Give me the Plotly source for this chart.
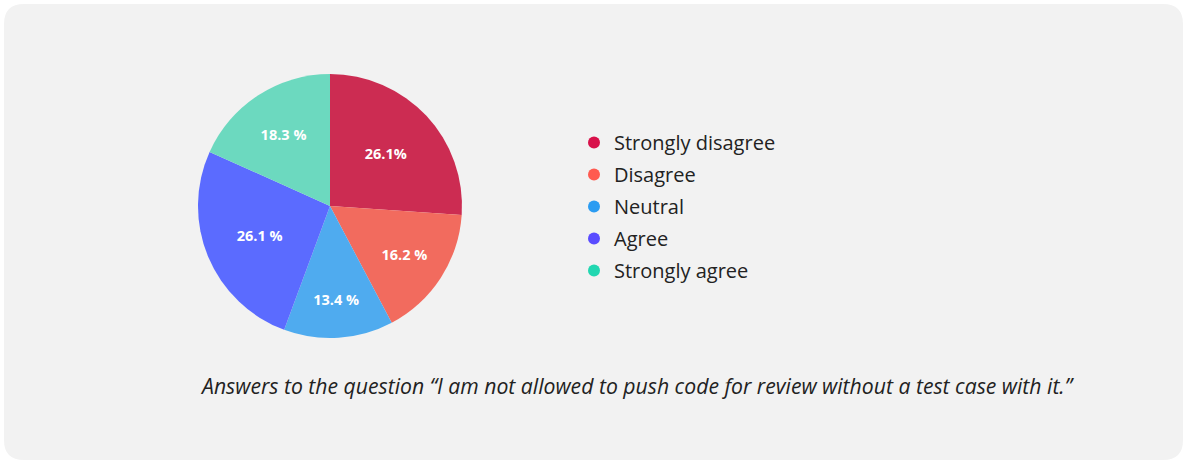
import plotly.graph_objects as go

# Survey answers
categories = ["Strongly disagree", "Disagree", "Neutral", "Agree", "Strongly agree"]
shares = [26.1, 16.2, 13.4, 26.1, 18.3]
label_gaps = ["", " ", " ", " ", " "]  # spacing before the % sign in each slice label
slice_colors = ["#CC2C52", "#F26B5E", "#4FABEF", "#5B6BFF", "#6CD9BF"]
legend_colors = ["#D8114A", "#FF5A50", "#2B9CF2", "#5A4CFF", "#22D7B1"]
caption = "Answers to the question \u201cI am not allowed to push code for review without a test case with it.\u201d"

W, H = 1185, 461
FONT = "'Open Sans', Lato, sans-serif"


def px(x):
    return x / W


def py(y):
    return 1 - y / H


slice_text = [f"{v}{g}%" for v, g in zip(shares, label_gaps)]

cx, cy, r = 330, 206, 132

fig = go.Figure()
fig.add_trace(go.Pie(
    labels=categories,
    values=shares,
    text=slice_text,
    textinfo="text",
    textposition="inside",
    insidetextorientation="horizontal",
    textfont=dict(family=FONT, size=14.5, color="white", weight="bold"),
    marker=dict(colors=slice_colors, line=dict(width=0)),
    sort=False,
    direction="clockwise",
    rotation=0,
    showlegend=False,
    hoverinfo="label+percent",
    domain=dict(x=[px(cx - r), px(cx + r)], y=[py(cy + r), py(cy - r)]),
))

# Legend entries
for i, (name, col) in enumerate(zip(categories, legend_colors)):
    fig.add_trace(go.Scatter(
        x=[None], y=[None], mode="markers", name=name,
        legendgroup=f"g{i}",
        marker=dict(symbol="circle", size=15, color=col),
    ))

# Rounded card behind the chart
x0, y0, x1, y1, rr = 4, 4, 1183, 460, 20
path = (
    f"M {px(x0 + rr)},{py(y0)} L {px(x1 - rr)},{py(y0)} "
    f"Q {px(x1)},{py(y0)} {px(x1)},{py(y0 + rr)} "
    f"L {px(x1)},{py(y1 - rr)} Q {px(x1)},{py(y1)} {px(x1 - rr)},{py(y1)} "
    f"L {px(x0 + rr)},{py(y1)} Q {px(x0)},{py(y1)} {px(x0)},{py(y1 - rr)} "
    f"L {px(x0)},{py(y0 + rr)} Q {px(x0)},{py(y0)} {px(x0 + rr)},{py(y0)} Z"
)
fig.add_shape(type="path", path=path, xref="paper", yref="paper",
              fillcolor="#F2F2F2", line=dict(width=0), layer="below")

fig.add_annotation(
    text=caption, xref="paper", yref="paper",
    x=px(637), y=py(385), xanchor="center", yanchor="middle",
    showarrow=False,
    font=dict(family=FONT, size=21.2, color="#222222", style="italic"),
)

fig.update_layout(
    width=W, height=H,
    margin=dict(l=0, r=0, t=0, b=0),
    paper_bgcolor="white",
    plot_bgcolor="rgba(0,0,0,0)",
    xaxis=dict(visible=False),
    yaxis=dict(visible=False),
    legend=dict(
        x=px(574), y=py(123), xanchor="left", yanchor="top",
        font=dict(family=FONT, size=20, color="#222222"),
        bgcolor="rgba(0,0,0,0)",
        tracegroupgap=3,
        itemsizing="constant",
        itemwidth=30,
    ),
)

fig.write_html("out.html")
